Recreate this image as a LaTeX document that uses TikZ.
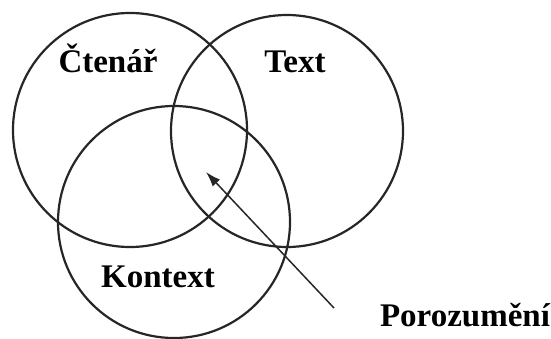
\documentclass[tikz,border=0pt]{standalone}
\usepackage{fontspec}
\setmainfont{Liberation Serif}
\usetikzlibrary{arrows.meta}
\begin{document}
\begin{tikzpicture}[x=1pt,y=-1pt,
  ring/.style={circle,draw=black!85,line width=2.2pt,minimum size=#1,inner sep=0pt},
  lbl/.style={anchor=base,font=\fontsize{33}{36}\selectfont\bfseries,text=black}]
\useasboundingbox (0,0) rectangle (551,338);
\node[ring=234pt] (ctenar) at (130,130) {};
\node[ring=232pt] (text) at (287,131) {};
\node[ring=232pt] (kontext) at (174,222) {};
\node[lbl] (lc) at (108,72) {Čtenář};
\node[lbl] (lt) at (295,72) {Text};
\node[lbl] (lk) at (158,287) {Kontext};
\node[lbl] (lp) at (465,326) {Porozumění};
\coordinate (tail) at (334,308);
\coordinate (tip) at (206,172);
\draw[black!85,line width=1.5pt,-{Latex[length=15pt,width=10pt]}] (tail) -- (tip);
\end{tikzpicture}
\end{document}
